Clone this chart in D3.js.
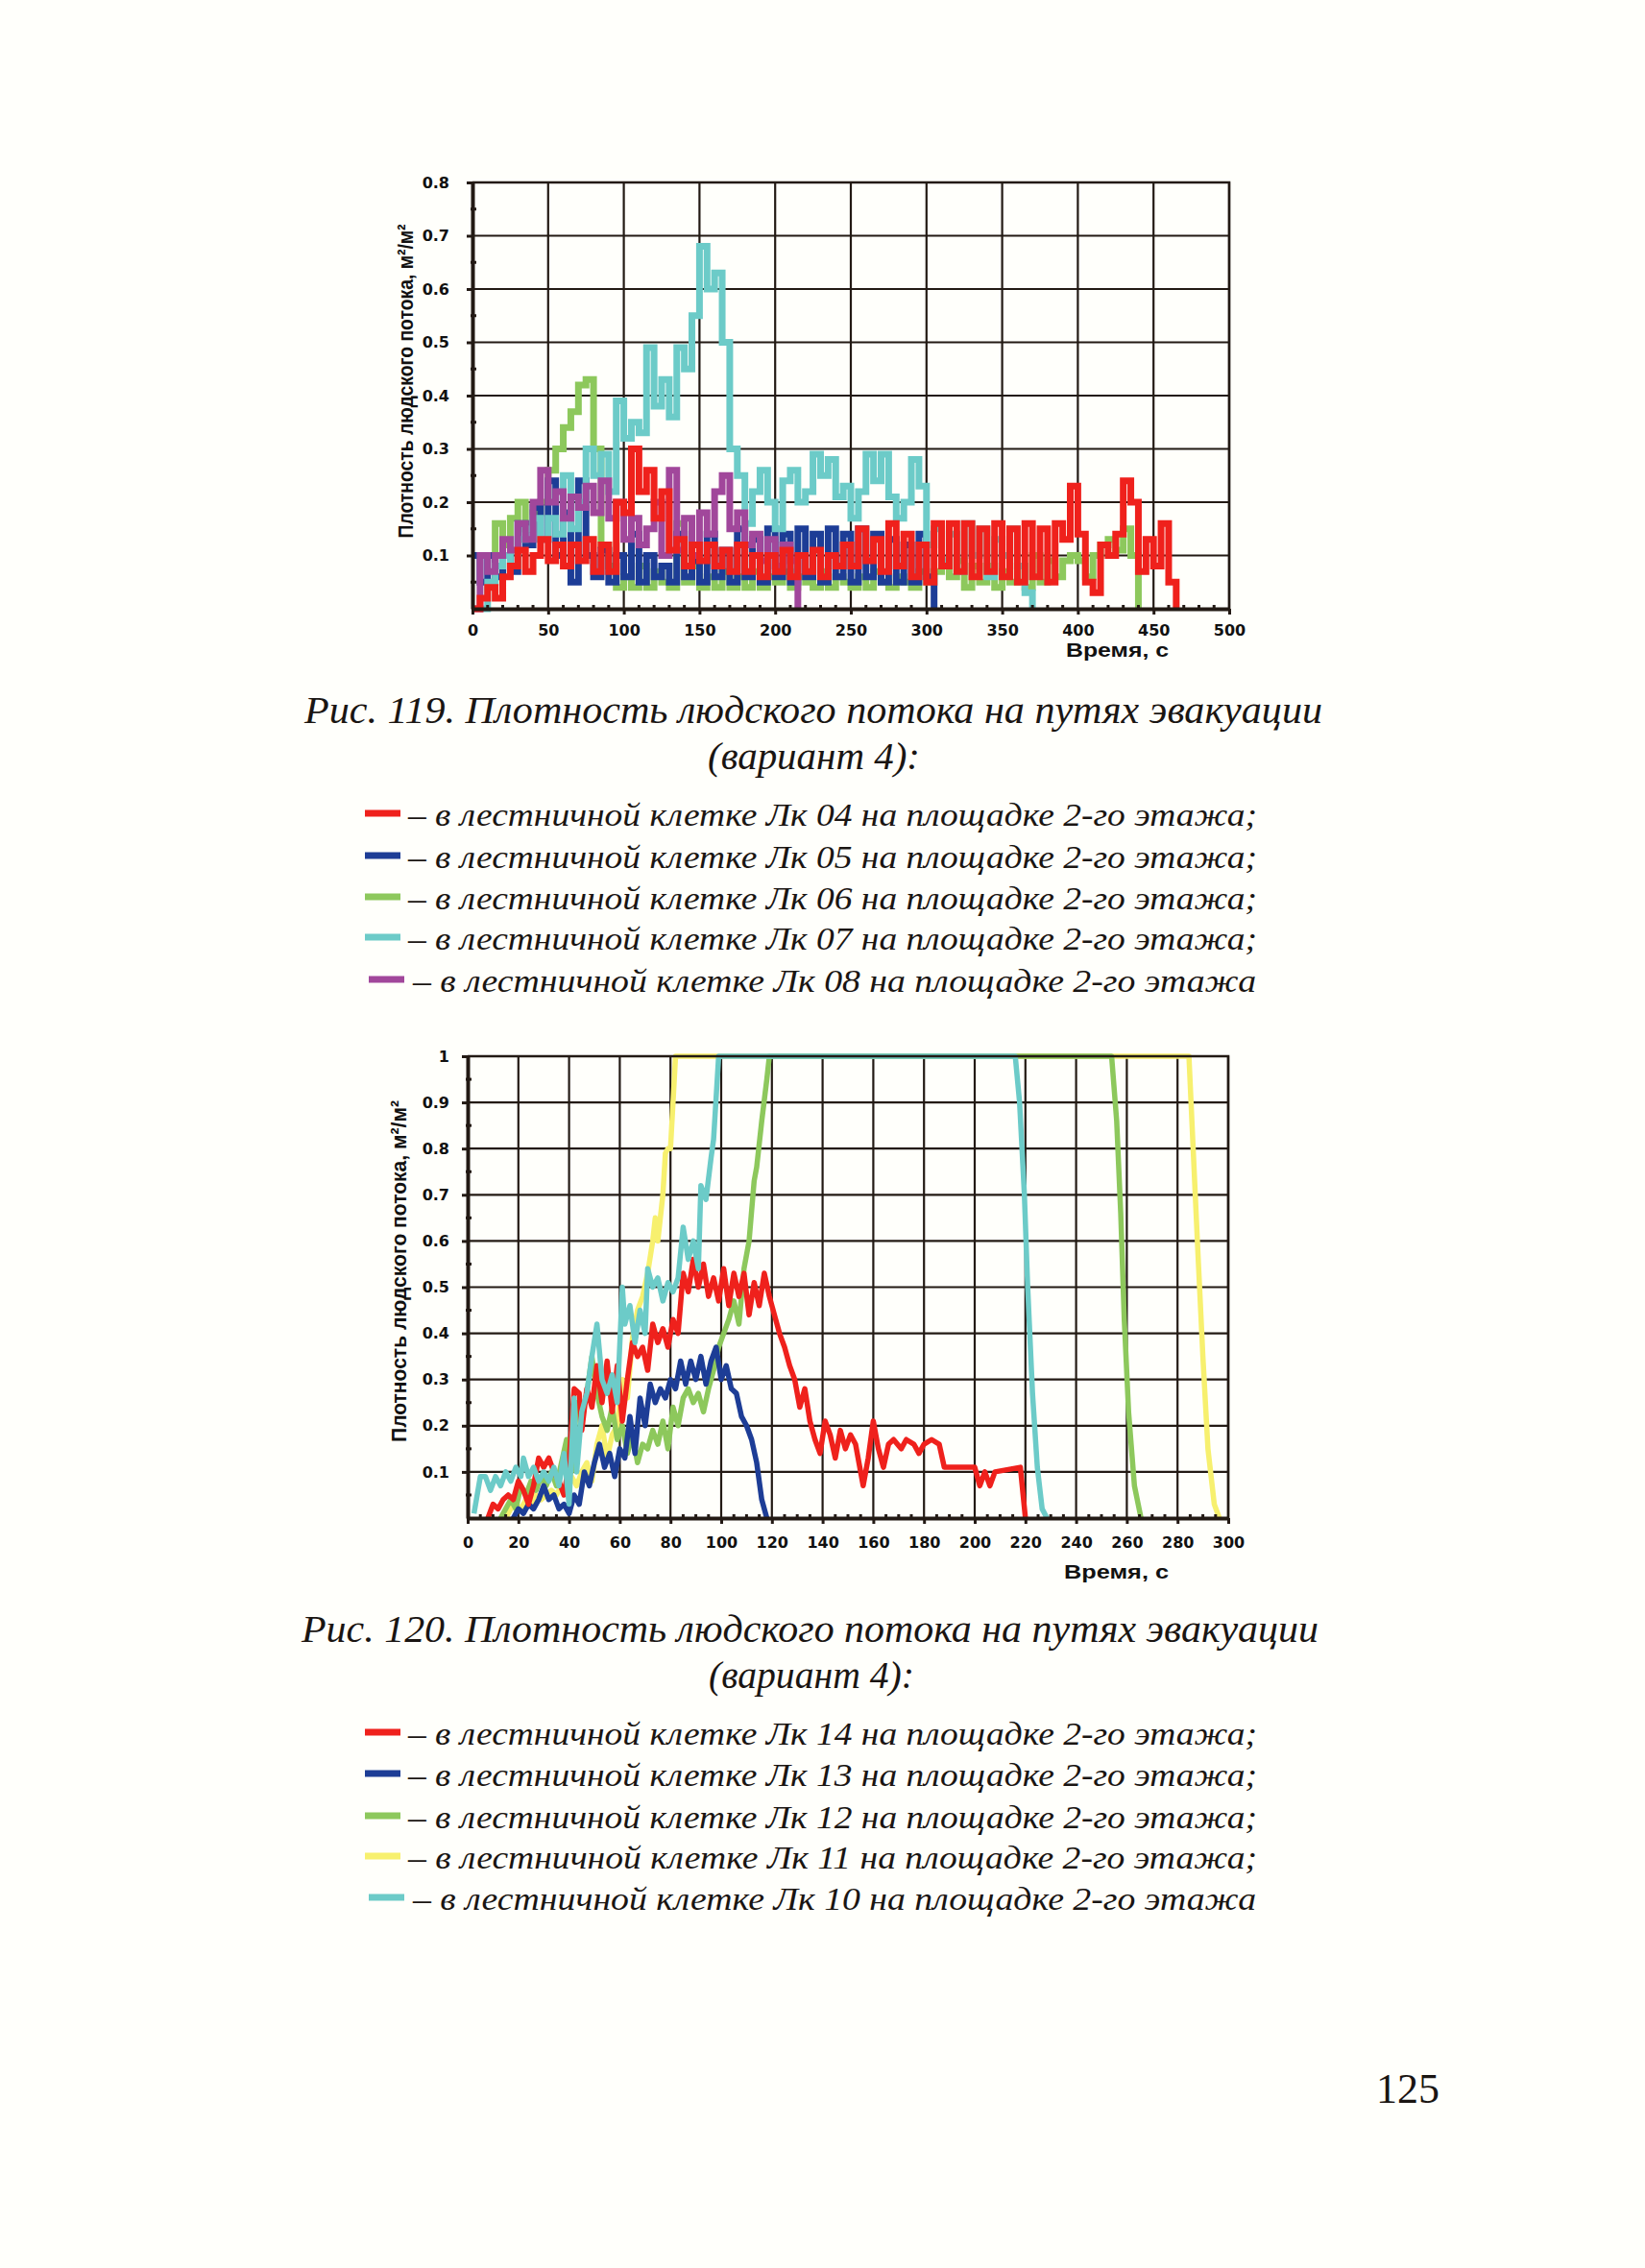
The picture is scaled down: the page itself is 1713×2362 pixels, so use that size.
<!DOCTYPE html>
<html><head><meta charset="utf-8">
<script src="https://cdn.jsdelivr.net/npm/d3@7"></script>
<style>body{margin:0;background:#fffffb;} svg{display:block}</style>
</head>
<body>
<svg id="page" width="1713" height="2362"></svg>
<script>
// ---------- Figure 119 data (time step 5 s, start time per series) ----------
const step119 = 5;
const x119Ticks = [0,50,100,150,200,250,300,350,400,450,500];
const y119Ticks = [0.1,0.2,0.3,0.4,0.5,0.6,0.7,0.8];
const lk04Start = 0;
const lk04 = [0,0.02,0.04,0.02,0.06,0.08,0.11,0.07,0.10,0.13,
  0.09,0.12,0.08,0.12,0.09,0.13,0.07,0.12,0.07,0.20,
  0.18,0.30,0.22,0.26,0.17,0.22,0.11,0.13,0.08,0.12,
  0.09,0.12,0.08,0.11,0.07,0.12,0.07,0.10,0.06,0.10,
  0.07,0.11,0.06,0.10,0.07,0.11,0.06,0.10,0.08,0.12,
  0.08,0.15,0.09,0.13,0.07,0.16,0.08,0.14,0.06,0.12,
  0.05,0.16,0.08,0.16,0.07,0.16,0.06,0.15,0.07,0.16,
  0.06,0.15,0.05,0.16,0.06,0.15,0.05,0.16,0.13,0.23,
  0.14,0.05,0.03,0.12,0.10,0.14,0.24,0.20,0.07,0.13,
  0.08,0.16,0.05,0];
const lk05Start = 0;
const lk05 = [0.10,0.05,0.10,0.06,0.10,0.07,0.16,0.12,0.19,0.13,
  0.24,0.10,0.18,0.05,0.24,0.10,0.06,0.11,0.05,0.10,
  0.06,0.14,0.05,0.10,0.06,0.08,0.05,0.14,0.06,0.09,
  0.05,0.14,0.06,0.11,0.05,0.15,0.06,0.13,0.05,0.15,
  0.06,0.14,0.05,0.15,0.06,0.14,0.05,0.15,0.06,0.14,
  0.05,0.15,0.06,0.14,0.05,0.13,0.05,0.12,0.05,0.14,
  0.06,0];
const lk06Start = 10;
const lk06 = [0.05,0.16,0.12,0.17,0.20,0.15,0.18,0.20,
  0.26,0.30,0.34,0.37,0.42,0.43,0.30,0.12,0.08,0.04,
  0.06,0.04,0.08,0.04,0.07,0.05,0.04,0.16,0.05,0.08,
  0.04,0.06,0.04,0.07,0.04,0.06,0.04,0.07,0.04,0.06,
  0.05,0.07,0.04,0.06,0.05,0.04,0.07,0.04,0.06,0.05,
  0.04,0.06,0.04,0.07,0.05,0.04,0.06,0.05,0.04,0.07,
  0.05,0.07,0.09,0.06,0.09,0.04,0.08,0.05,0.08,0.04,
  0.07,0.05,0.08,0.04,0.10,0.05,0.09,0.06,0.09,0.10,
  0.09,0.06,0.10,0.12,0.13,0.11,0.15,0.10,0];
const lk07Start = 5;
const lk07 = [0,0.05,0.08,0.10,0.08,0.13,0.15,0.17,0.13,
  0.17,0.14,0.25,0.15,0.20,0.30,0.25,0.29,0.22,0.39,
  0.32,0.35,0.33,0.49,0.38,0.43,0.36,0.49,0.45,0.55,
  0.68,0.60,0.63,0.50,0.30,0.25,0.16,0.22,0.26,0.20,
  0.15,0.24,0.26,0.20,0.22,0.29,0.25,0.28,0.21,0.23,
  0.17,0.22,0.29,0.24,0.29,0.21,0.17,0.20,0.28,0.23,
  0.12,0.15,0.09,0.14,0.07,0.16,0.10,0.15,0.06,0.13,
  0.10,0.15,0.08,0.03,0];
const lk08Start = 0;
const lk08 = [0,0.10,0.07,0.10,0.13,0.11,0.16,0.13,0.20,0.26,
  0.20,0.22,0.17,0.21,0.19,0.23,0.18,0.24,0.17,0.20,
  0.13,0.17,0.12,0.15,0.20,0.10,0.26,0.11,0.17,0.10,
  0.18,0.14,0.22,0.25,0.15,0.18,0.12,0.14,0.09,0.13,
  0.08,0.12,0.09,0];

// ---------- Figure 120 data ([time, density]) ----------
const x120Ticks = [0,20,40,60,80,100,120,140,160,180,200,220,240,260,280,300];
const y120Ticks = [0.1,0.2,0.3,0.4,0.5,0.6,0.7,0.8,0.9,1];
const lk14 = [[8,0],[10,0.03],[12,0.02],[14,0.04],[16,0.05],[18,0.04],[20,0.08],[22,0.06],[24,0.03],[26,0.07],[28,0.13],[30,0.11],[32,0.13],[34,0.10],[36,0.08],[38,0.05],[40,0.12],[42,0.28],[44,0.27],[45,0.19],[47,0.28],[49,0.24],[51,0.33],[53,0.25],[55,0.34],[57,0.23],[59,0.33],[61,0.21],[63,0.30],[65,0.38],[67,0.35],[69,0.37],[71,0.32],[73,0.42],[75,0.38],[77,0.41],[79,0.37],[81,0.43],[83,0.40],[85,0.53],[87,0.49],[89,0.56],[91,0.50],[93,0.55],[95,0.48],[97,0.52],[99,0.47],[101,0.54],[103,0.46],[105,0.53],[107,0.48],[109,0.53],[111,0.44],[113,0.51],[115,0.46],[117,0.53],[119,0.48],[121,0.44],[123,0.40],[125,0.37],[127,0.33],[129,0.30],[131,0.24],[133,0.28],[135,0.21],[137,0.17],[139,0.14],[141,0.21],[143,0.18],[145,0.13],[147,0.19],[149,0.15],[151,0.18],[153,0.16],[156,0.07],[158,0.13],[160,0.21],[162,0.15],[164,0.11],[166,0.16],[168,0.17],[171,0.15],[173,0.17],[176,0.16],[178,0.14],[180,0.16],[183,0.17],[186,0.16],[188,0.11],[200,0.11],[202,0.07],[204,0.10],[206,0.07],[208,0.10],[218,0.11],[220,0]];
const lk13 = [[18,0],[20,0.02],[22,0.01],[24,0.03],[26,0.02],[28,0.04],[30,0.07],[32,0.04],[34,0.05],[36,0.02],[38,0.03],[40,0.01],[42,0.05],[44,0.03],[46,0.10],[48,0.07],[50,0.12],[52,0.16],[54,0.11],[56,0.14],[58,0.09],[60,0.15],[62,0.13],[64,0.22],[66,0.14],[68,0.26],[70,0.20],[72,0.29],[74,0.25],[76,0.28],[78,0.26],[80,0.30],[82,0.28],[84,0.34],[86,0.29],[88,0.34],[90,0.30],[92,0.35],[94,0.29],[96,0.34],[98,0.37],[100,0.30],[102,0.33],[104,0.28],[106,0.27],[108,0.22],[110,0.20],[112,0.17],[114,0.12],[116,0.04],[118,0]];
const lk12 = [[13,0],[15,0.02],[17,0.04],[19,0.02],[21,0.07],[23,0.05],[25,0.08],[27,0.06],[29,0.09],[31,0.07],[33,0.10],[35,0.07],[37,0.12],[39,0.17],[41,0.10],[43,0.25],[45,0.22],[47,0.27],[49,0.35],[51,0.27],[53,0.22],[55,0.19],[57,0.24],[59,0.17],[61,0.20],[63,0.14],[65,0.18],[67,0.12],[69,0.16],[71,0.15],[73,0.19],[75,0.16],[77,0.21],[79,0.15],[81,0.24],[83,0.20],[85,0.26],[87,0.28],[89,0.25],[91,0.27],[93,0.23],[95,0.28],[97,0.32],[99,0.37],[101,0.40],[103,0.43],[105,0.47],[107,0.42],[109,0.54],[111,0.60],[113,0.73],[114,0.76],[116,0.86],[118,0.95],[119,1.0],[254,1.0],[256,0.86],[257.6,0.66],[259,0.43],[260.7,0.23],[263,0.07],[265.6,0]];
const lk11 = [[15,0],[17,0.02],[19,0.03],[21,0.02],[23,0.04],[25,0.03],[27,0.05],[29,0.04],[31,0.05],[33,0.06],[35,0.05],[37,0.07],[39,0.06],[41,0.09],[43,0.07],[45,0.10],[47,0.12],[49,0.08],[51,0.16],[53,0.20],[55,0.13],[57,0.18],[59,0.20],[61,0.30],[63,0.26],[65,0.39],[67,0.45],[69,0.48],[71,0.53],[73,0.60],[74,0.65],[75,0.60],[77,0.70],[78,0.79],[79,0.80],[80,0.80],[81,0.90],[82,1.0],[284.5,1.0],[286,0.82],[288,0.58],[290,0.35],[292,0.15],[294.5,0.03],[296.5,0]];
const lk10 = [[2.5,0.01],[5,0.09],[7,0.09],[9,0.06],[11,0.09],[13,0.07],[15,0.10],[17,0.08],[19,0.11],[21,0.09],[22,0.13],[24,0.09],[26,0.11],[28,0.08],[30,0.10],[32,0.08],[34,0.11],[36,0.07],[38,0.14],[40,0.03],[42,0.26],[43,0.10],[45,0.23],[47,0.27],[49,0.35],[51,0.42],[53,0.30],[55,0.27],[57,0.31],[59,0.25],[61,0.50],[62,0.42],[64,0.46],[66,0.38],[68,0.45],[70,0.40],[71,0.54],[73,0.50],[75,0.52],[77,0.47],[79,0.51],[81,0.49],[83,0.52],[85,0.63],[87,0.56],[89,0.60],[91,0.54],[92,0.72],[94,0.69],[96,0.78],[97,0.82],[99,1.0],[216,1.0],[217.7,0.9],[219.6,0.7],[220.9,0.5],[222.8,0.27],[224.7,0.11],[226.6,0.02],[228.5,0]];

// ---------- text ----------
const cap119 = ["Рис. 119. Плотность людского потока на путях эвакуации", "(вариант 4):"];
const leg119 = ["– в лестничной клетке Лк 04 на площадке 2-го этажа;",
  "– в лестничной клетке Лк 05 на площадке 2-го этажа;",
  "– в лестничной клетке Лк 06 на площадке 2-го этажа;",
  "– в лестничной клетке Лк 07 на площадке 2-го этажа;",
  "– в лестничной клетке Лк 08 на площадке 2-го этажа"];
const cap120 = ["Рис. 120. Плотность людского потока на путях эвакуации", "(вариант 4):"];
const leg120 = ["– в лестничной клетке Лк 14 на площадке 2-го этажа;",
  "– в лестничной клетке Лк 13 на площадке 2-го этажа;",
  "– в лестничной клетке Лк 12 на площадке 2-го этажа;",
  "– в лестничной клетке Лк 11 на площадке 2-го этажа;",
  "– в лестничной клетке Лк 10 на площадке 2-го этажа"];
const yTitle = "Плотность людского потока, м²/м²";
const xTitle = "Время, с";

const C = {red:'#ef211c', blue:'#1d3d96', green:'#8dc85c', cyan:'#6ccbc8', purple:'#a1479b', yellow:'#f7f06e'};
const INK = '#231a14';

const svg = d3.select('#page');
svg.append('rect').attr('width',1713).attr('height',2362).attr('fill','#fffffb');

function drawChart(c) {
  const x = d3.scaleLinear().domain(c.xDomain).range([c.left, c.right]);
  const y = d3.scaleLinear().domain(c.yDomain).range([c.bottom, c.top]);
  const g = svg.append('g');
  // grid
  g.append('g').selectAll('line').data(c.xTicks.filter(d => d > c.xDomain[0])).join('line')
    .attr('x1', d => x(d)).attr('x2', d => x(d)).attr('y1', c.top).attr('y2', c.bottom)
    .attr('stroke', INK).attr('stroke-width', 2.2);
  g.append('g').selectAll('line').data(c.yTicks).join('line')
    .attr('x1', c.left).attr('x2', c.right).attr('y1', d => y(d)).attr('y2', d => y(d))
    .attr('stroke', INK).attr('stroke-width', 2.2);
  // series
  c.series.forEach(s => {
    const line = d3.line().x(d => x(d[0])).y(d => y(d[1])).curve(c.curve);
    g.append('path').attr('d', line(s.data)).attr('fill', 'none')
      .attr('stroke', s.color).attr('stroke-width', c.sw)
      .attr('stroke-linejoin', c.join).attr('stroke-linecap', 'butt');
  });
  // axes
  const ax = d3.axisBottom(x).tickValues(c.xTicks).tickSize(6).tickPadding(c.xPad).tickSizeOuter(0).tickFormat(d => d);
  const gx = g.append('g').attr('transform', `translate(0,${c.bottom})`).call(ax);
  const ay = d3.axisLeft(y).tickValues(c.yTicks).tickSize(6).tickPadding(c.yPad).tickSizeOuter(0).tickFormat(c.yFmt);
  const gy = g.append('g').attr('transform', `translate(${c.left},0)`).call(ay);
  [gx, gy].forEach(a => {
    a.select('.domain').attr('stroke', INK).attr('stroke-width', 4);
    a.selectAll('.tick line').attr('stroke', INK).attr('stroke-width', 3);
    a.selectAll('.tick text').attr('fill', '#111').attr('font-family', 'DejaVu Sans, sans-serif')
      .attr('font-weight', 'bold').attr('font-size', c.tickFont);
  });
  // minor ticks
  g.append('g').selectAll('line').data(c.xMinor).join('line')
    .attr('x1', d => x(d)).attr('x2', d => x(d)).attr('y1', c.bottom - 4).attr('y2', c.bottom + 2)
    .attr('stroke', INK).attr('stroke-width', 3);
  g.append('g').selectAll('line').data(c.yMinor).join('line')
    .attr('x1', c.left - 2).attr('x2', c.left + 4).attr('y1', d => y(d)).attr('y2', d => y(d))
    .attr('stroke', INK).attr('stroke-width', 3);
  // top / right border
  g.append('path').attr('d', `M${c.left},${c.top}H${c.right}V${c.bottom}`)
    .attr('fill', 'none').attr('stroke', INK).attr('stroke-width', 2.6);
  // titles
  g.append('text').attr('transform', `translate(${c.yTitle[0]},${c.yTitle[1]}) rotate(-90)`)
    .attr('text-anchor', 'middle').attr('dominant-baseline', 'central')
    .attr('font-family', 'Liberation Sans, Arial, sans-serif').attr('font-weight', 'bold')
    .attr('font-size', 22).attr('fill', '#111')
    .attr('textLength', c.yTitle[2]).attr('lengthAdjust', 'spacingAndGlyphs').text(yTitle);
  g.append('text').attr('x', c.xTitle[0]).attr('y', c.xTitle[1])
    .attr('font-family', 'Liberation Sans, Arial, sans-serif').attr('font-weight', 'bold')
    .attr('font-size', 21).attr('fill', '#111')
    .attr('textLength', c.xTitle[2]).attr('lengthAdjust', 'spacingAndGlyphs').text(xTitle);
}

function toPairs(start, vals) { return vals.map((v, i) => [start + i * step119, v]); }

drawChart({
  xDomain: [0, 500], yDomain: [0, 0.8], left: 492, right: 1280, top: 190, bottom: 634,
  xTicks: x119Ticks, yTicks: y119Ticks, xPad: 11, yPad: 18, tickFont: 16,
  yFmt: d => d.toFixed(1),
  xMinor: d3.range(10, 500, 10).filter(d => d % 50), yMinor: [0.05,0.15,0.25,0.35,0.45,0.55,0.65,0.75],
  curve: d3.curveStepAfter, sw: 7, join: 'miter',
  series: [
    {color: C.green, data: toPairs(lk06Start, lk06)},
    {color: C.blue, data: toPairs(lk05Start, lk05)},
    {color: C.cyan, data: toPairs(lk07Start, lk07)},
    {color: C.purple, data: toPairs(lk08Start, lk08)},
    {color: C.red, data: toPairs(lk04Start, lk04)}
  ],
  yTitle: [422, 397, 327], xTitle: [1110, 684, 107]
});

drawChart({
  xDomain: [0, 300], yDomain: [0, 1], left: 487, right: 1279, top: 1100, bottom: 1581,
  xTicks: x120Ticks, yTicks: y120Ticks, xPad: 14, yPad: 13, tickFont: 16,
  yFmt: d => d === 1 ? '1' : d.toFixed(1),
  xMinor: d3.range(5, 300, 5).filter(d => d % 20), yMinor: [0.05,0.15,0.25,0.35,0.45,0.55,0.65,0.75,0.85,0.95],
  curve: d3.curveLinear, sw: 5.5, join: 'round',
  series: [
    {color: C.yellow, data: lk11},
    {color: C.green, data: lk12},
    {color: C.blue, data: lk13},
    {color: C.red, data: lk14},
    {color: C.cyan, data: lk10}
  ],
  yTitle: [415, 1324, 356], xTitle: [1108, 1644, 109]
});

// captions and legends
function serif(x, yb, size, len, txt) {
  svg.append('text').attr('x', x).attr('y', yb).attr('font-family', 'Liberation Serif, Times New Roman, serif')
    .attr('font-style', 'italic').attr('font-size', size).attr('fill', '#1a1512')
    .attr('textLength', len).attr('lengthAdjust', 'spacingAndGlyphs').text(txt);
}
function caption(lines, l1, l2) {
  serif(l1[0], l1[1], 40, l1[2], lines[0]);
  serif(l2[0], l2[1], 40, l2[2], lines[1]);
}
function legend(items, colors, ys) {
  items.forEach((t, i) => {
    const last = i === items.length - 1;
    svg.append('rect').attr('x', last ? 384 : 380).attr('y', ys[i] - 3.5).attr('width', 37).attr('height', 7).attr('fill', colors[i]);
    serif(last ? 430 : 425, ys[i] + 13, 33, last ? 878 : 884, t);
  });
}
caption(cap119, [317, 753, 1060], [737, 801, 221]);
legend(leg119, [C.red, C.blue, C.green, C.cyan, C.purple], [847, 891, 934, 976, 1020]);
caption(cap120, [314, 1710, 1059], [738, 1758, 214]);
legend(leg120, [C.red, C.blue, C.green, C.yellow, C.cyan], [1804, 1847, 1891, 1933, 1976]);

svg.append('text').attr('x', 1433).attr('y', 2190).attr('font-family', 'Liberation Serif, Times New Roman, serif')
  .attr('font-size', 44).attr('fill', '#1a1512').text('125');
</script>
</body></html>
